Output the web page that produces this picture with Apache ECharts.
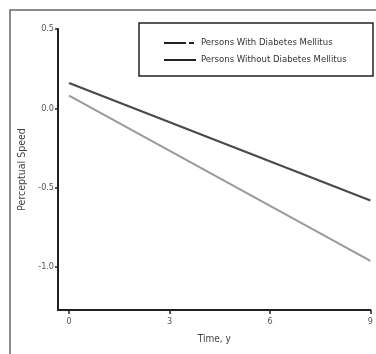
<!DOCTYPE html>
<html>
<head>
<meta charset="utf-8">
<script src="https://cdn.jsdelivr.net/npm/echarts@6/dist/echarts.min.js"></script>
<style>
  html, body { margin: 0; padding: 0; background: #fff; }
  #chart { width: 376px; height: 354px; }
</style>
</head>
<body>
<div id="chart"></div>
<script>
// 数据
var seriesNames = ['Persons With Diabetes Mellitus', 'Persons Without Diabetes Mellitus'];
var years = [0, 9];
var withDM = [0.08, -0.96];
var withoutDM = [0.16, -0.58];
var xTicks = [0, 3, 6, 9];
var yTicks = [0.5, 0, -0.5, -1.0];

var font = '"Liberation Sans Narrow", "DejaVu Sans Condensed", Arial, sans-serif';

function pairs(xs, ys) {
  var out = [];
  for (var i = 0; i < xs.length; i++) {
    out.push([xs[i], ys[i]]);
  }
  return out;
}

var chart = echarts.init(document.getElementById('chart'), null, { renderer: 'canvas' });

var option = {
  animation: false,
  backgroundColor: '#fff',
  textStyle: { fontFamily: font },
  grid: {
    left: 58,
    right: 4,
    top: 29,
    bottom: 44
  },
  graphic: [
    {
      type: 'rect',
      shape: { x: 10, y: 10, width: 420, height: 400 },
      style: { fill: 'none', stroke: '#666', lineWidth: 1.5 },
      silent: true
    },
    {
      type: 'rect',
      shape: { x: 139, y: 23, width: 234, height: 53 },
      style: { fill: '#fff', stroke: '#222', lineWidth: 1.5 },
      silent: true,
      z: 5
    }
  ],
  legend: {
    orient: 'vertical',
    left: 158,
    top: 33,
    itemWidth: 32,
    itemHeight: 10,
    itemGap: 7,
    z: 10,
    textStyle: { fontFamily: font, fontSize: 9.5, color: '#333' },
    data: [
      {
        name: seriesNames[0],
        itemStyle: { opacity: 0 },
        lineStyle: { color: '#222', width: 2, type: [22, 3, 5, 3] }
      },
      {
        name: seriesNames[1],
        itemStyle: { opacity: 0 },
        lineStyle: { color: '#222', width: 2 }
      }
    ]
  },
  xAxis: {
    type: 'value',
    min: -0.33,
    max: 9,
    name: 'Time, y',
    nameLocation: 'middle',
    nameGap: 24,
    nameTextStyle: { fontFamily: font, fontSize: 10, color: '#444' },
    splitLine: { show: false },
    axisLine: { onZero: false, lineStyle: { color: '#222', width: 2 } },
    axisTick: { customValues: xTicks, length: 4, lineStyle: { color: '#222', width: 1.5 } },
    axisLabel: {
      customValues: xTicks,
      margin: 7,
      fontFamily: font,
      fontSize: 9,
      color: '#555'
    }
  },
  yAxis: {
    type: 'value',
    min: -1.27,
    max: 0.5,
    name: 'Perceptual Speed',
    nameLocation: 'middle',
    nameGap: 25,
    nameTextStyle: { fontFamily: font, fontSize: 10.5, color: '#444' },
    splitLine: { show: false },
    axisLine: { onZero: false, lineStyle: { color: '#222', width: 2 } },
    axisTick: { customValues: yTicks, length: 3, lineStyle: { color: '#222', width: 1.5 } },
    axisLabel: {
      customValues: yTicks,
      margin: 4,
      fontFamily: font,
      fontSize: 9,
      color: '#555',
      formatter: function (v) {
        return v.toFixed(1);
      }
    }
  },
  series: [
    {
      name: seriesNames[0],
      type: 'line',
      data: pairs(years, withDM),
      symbol: 'none',
      lineStyle: { color: '#9a9a9a', width: 2 },
      itemStyle: { color: '#9a9a9a' }
    },
    {
      name: seriesNames[1],
      type: 'line',
      data: pairs(years, withoutDM),
      symbol: 'none',
      lineStyle: { color: '#4a4a4a', width: 2.2 },
      itemStyle: { color: '#4a4a4a' }
    }
  ]
};

chart.setOption(option);
</script>
</body>
</html>
